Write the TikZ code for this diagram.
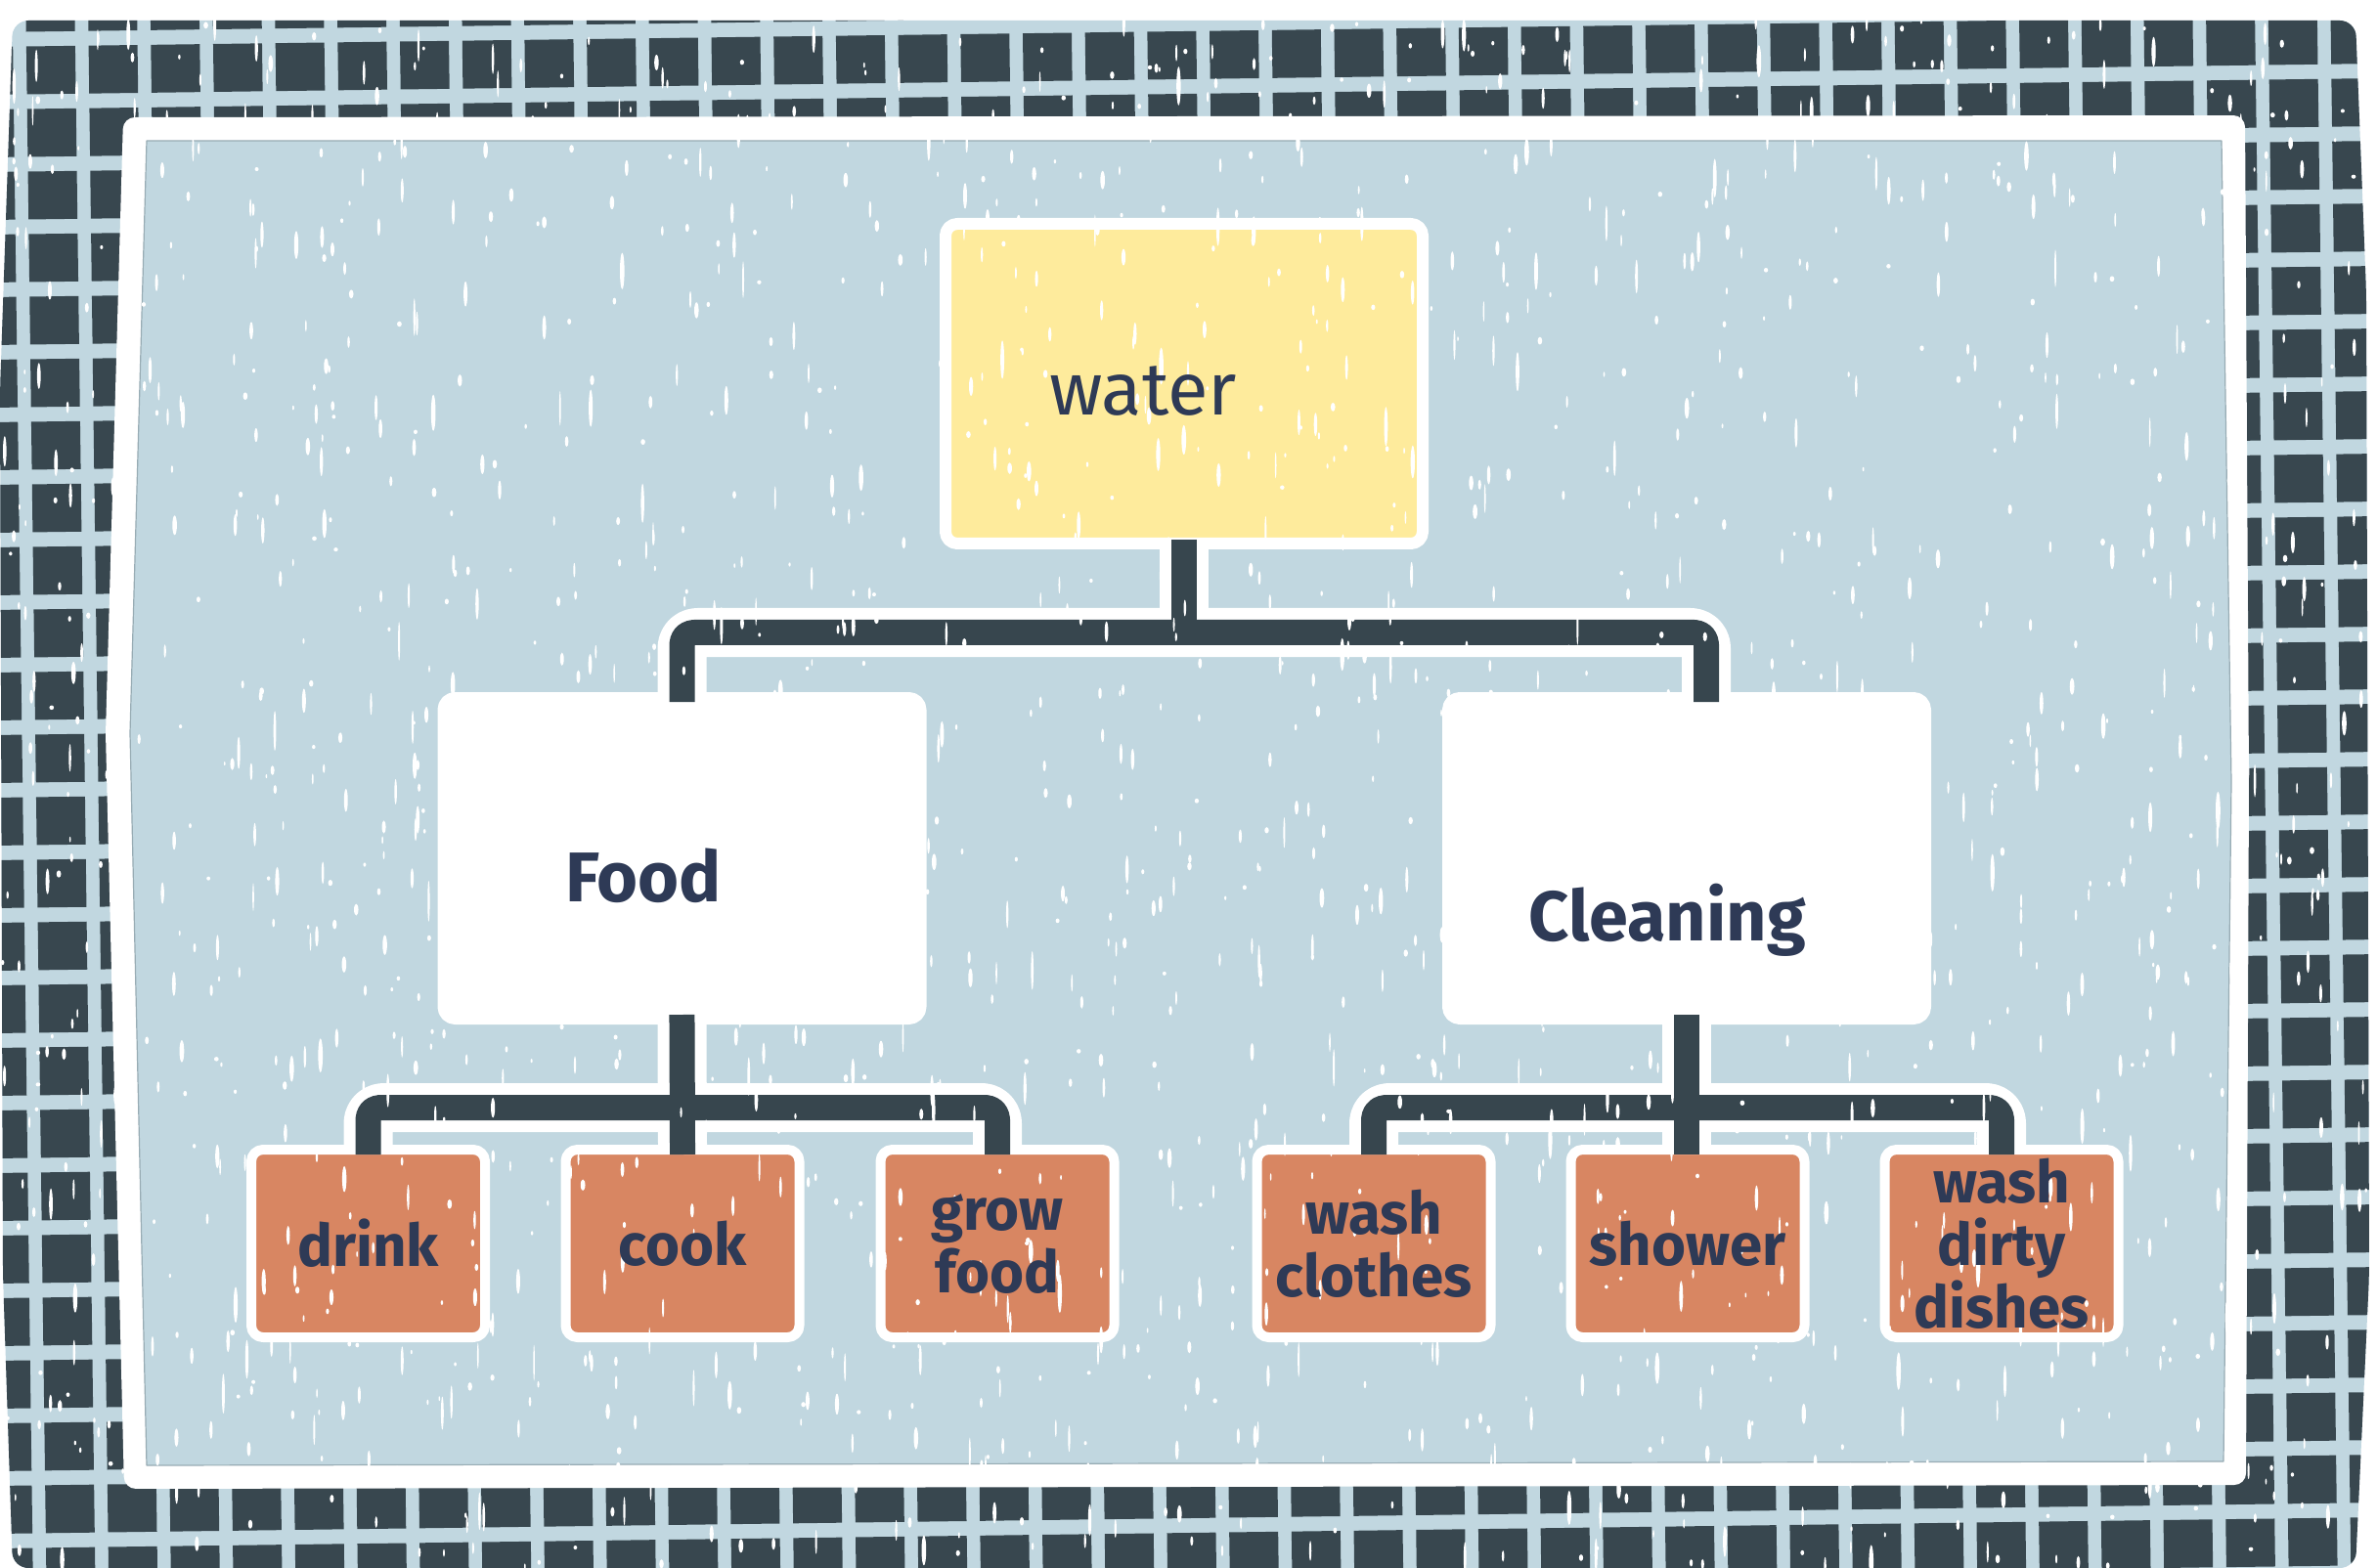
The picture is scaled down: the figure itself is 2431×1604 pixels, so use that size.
\documentclass[tikz,border=0pt]{standalone}
\usepackage{fontspec}
\setmainfont{Fira Sans}
\usepackage{tikz}
\usetikzlibrary{shadows}
\definecolor{gridink}{HTML}{38474F}
\definecolor{paleblue}{HTML}{C1D7E0}
\definecolor{butter}{HTML}{FEEB9C}
\definecolor{clay}{HTML}{D88662}
\definecolor{navy}{HTML}{2E3A56}
\definecolor{wireink}{HTML}{37464E}
\tikzstyle{card} = [rectangle, rounded corners=6pt, draw=white, general shadow={fill=gridink, shadow xshift=0.8pt, shadow yshift=-0.8pt}]
\tikzstyle{topbox} = [card, line width=6pt, fill=butter, minimum width=244pt, minimum height=163.5pt]
\tikzstyle{midbox} = [card, line width=6pt, fill=white, minimum width=244pt, minimum height=164pt]
\tikzstyle{leafbox} = [card, line width=5pt, fill=clay, minimum width=119.5pt, minimum height=96pt]
\tikzstyle{halo} = [draw=white, line width=25pt, line cap=butt, rounded corners=8pt]
\tikzstyle{wire} = [draw=wireink, line width=13pt, line cap=butt, rounded corners=6pt, shorten >=-5pt, shorten <=-5pt]
\tikzstyle{toptxt} = [text=navy, anchor=base, inner sep=0pt, font=\fontsize{38}{42}\selectfont]
\tikzstyle{midtxt} = [text=navy, anchor=base, inner sep=0pt, font=\fontsize{36}{40}\selectfont\bfseries]
\tikzstyle{leaftxt} = [text=navy, align=center, inner sep=0pt, font=\fontsize{30}{32}\selectfont\bfseries]

\begin{document}
\begin{tikzpicture}[line cap=round, line join=round, x=0.5pt, y=-0.5pt]
      \useasboundingbox (0,0) rectangle (2431,1604);
      \fill[white] (0,0) rectangle (2431,1604);
      \begin{scope}
        \clip[rounded corners=8pt] (13,21) -- (2409,21) -- (2420,300) -- (2423,1304) -- (2409,1604) -- (13,1604) -- (3,1304) -- (0,400) -- cycle;
        \fill[paleblue] (0,0) rectangle (2431,1604);
        \begin{scope}[rotate around={0.75:(1135,58)}]
          \foreach \i in {-19,...,21}
            \foreach \j in {-1,...,25}
              \fill[gridink] ({1110+63.7*\i},{33+64*\j}) rectangle ++(50,49);
        \end{scope}
      \end{scope}
      \fill[white, rounded corners=6pt] (126,120) -- (2296,118) -- (2300,800) -- (2297,1519) -- (127,1523) -- (108,750) -- cycle;
      \filldraw[fill=paleblue, draw=paleblue!70!gridink, line width=0.6pt] (150,144) -- (2272,144) -- (2282,800) -- (2274,1495) -- (150,1499) -- (133,750) -- cycle;

      \node[topbox] (water) at (1211,392.5) {};
      \node[midbox] (food) at (697.5,878) {};
      \node[midbox] (cleaning) at (1725,878) {};
      \node[leafbox] (drink) at (376.5,1272) {};
      \node[leafbox] (cook) at (698,1272) {};
      \node[leafbox] (grow) at (1020,1272) {};
      \node[leafbox] (washc) at (1405,1272) {};
      \node[leafbox] (shower) at (1726,1272) {};
      \node[leafbox] (dishes) at (2047,1272) {};

      \foreach \ls in {halo,wire}{
        \draw[\ls] (water.south) -- ++(0,85);
        \draw[\ls] (food.north) -- ++(0,-61) -| ([xshift=10pt]cleaning.north);
        \draw[\ls] (food.south) -- (cook.north);
        \draw[\ls] (drink.north) -- ++(0,-38) -| (grow.north);
        \draw[\ls] (cleaning.south) -- (cleaning.south |- shower.north);
        \draw[\ls] (washc.north) -- ++(0,-38) -| (dishes.north);
      }

      \pgfmathsetseed{2431}
      \foreach \k in {1,...,1900}{
        \pgfmathsetmacro\sx{2431*rnd}
        \pgfmathsetmacro\sy{21+1583*rnd}
        \pgfmathsetmacro\sh{2+20*rnd*rnd}
        \pgfmathsetmacro\sw{0.8+1.6*rnd}
        \fill[white] (\sx,\sy) ellipse [x radius=\sw, y radius=\sh];
      }

      \node[toptxt] (waterlbl) at (1169,425) {water};
      \node[midtxt] (foodlbl) at (658,922) {Food};
      \node[midtxt] (cleaninglbl) at (1705,962) {Cleaning};
      \node[leaftxt] (drinklbl) at (drink) {drink};
      \node[leaftxt] (cooklbl) at (cook) {cook};
      \node[leaftxt] (growlbl) at (grow) {grow\\food};
      \node[leaftxt] (washclbl) at (washc) {wash\\clothes};
      \node[leaftxt] (showerlbl) at (shower) {shower};
      \node[leaftxt] (disheslbl) at (dishes) {wash\\dirty\\dishes};
\end{tikzpicture}
\end{document}
